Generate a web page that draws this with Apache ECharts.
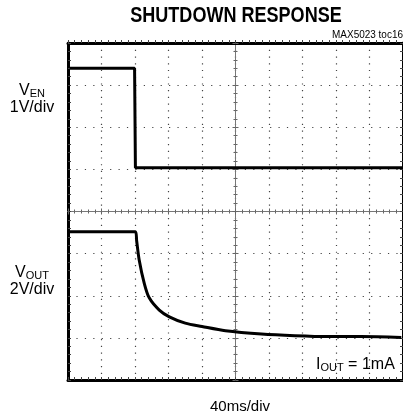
<!DOCTYPE html>
<html>
<head>
<meta charset="utf-8">
<script src="https://cdn.jsdelivr.net/npm/echarts@6/dist/echarts.min.js"></script>
<style>
html,body{margin:0;padding:0;background:#fff;}
#chart{width:403px;height:416px;}
</style>
</head>
<body>
<div id="chart"></div>
<script>
// time in ms relative to screen centre (40 ms/div, 10 div)
// vertical value in divisions relative to screen centre (8 div)
const venTime = [-198, -120.5, -119.5, 200];
const venDiv  = [3.40, 3.40, 1.04, 1.04];
const voutTime = [-198, -119.5, -118, -115, -109, -103, -91, -79, -60, -40, -12, 31, 71, 111, 150, 198];
const voutDiv  = [-0.48, -0.48, -0.70, -1.15, -1.70, -2.05, -2.34, -2.50, -2.65, -2.73, -2.83, -2.91, -2.95, -2.97, -2.97, -2.99];

const titleText = 'SHUTDOWN RESPONSE';
const tocText = 'MAX5023 toc16';
const xLabel = '40ms/div';

const sans = "'Liberation Sans',Arial,sans-serif";

const venData = venTime.map((t, i) => [t, venDiv[i]]);
const voutData = voutTime.map((t, i) => [t, voutDiv[i]]);

const frameLine = {show: true, onZero: false, lineStyle: {color: '#000', width: 3}};
const centreLine = {show: true, onZero: true, onZeroAxisIndex: 0, lineStyle: {color: '#777', width: 1}};
const noLabel = {show: false};

function xFrame(pos, inside, extra) {
  return Object.assign({
    type: 'value', min: -200, max: 200, interval: 40, position: pos,
    axisLine: frameLine,
    axisTick: {show: true, inside: inside, length: 3, lineStyle: {color: '#444', width: 1}},
    minorTick: {show: true, splitNumber: 5, length: 3, lineStyle: {color: '#444', width: 1}},
    axisLabel: noLabel, splitLine: {show: false}
  }, extra || {});
}
function yFrame(pos, inside, extra) {
  return Object.assign({
    type: 'value', min: -4, max: 4, interval: 1, position: pos,
    axisLine: frameLine,
    axisTick: {show: true, inside: inside, length: 3, lineStyle: {color: '#444', width: 1}},
    minorTick: {show: true, splitNumber: 5, length: 3, lineStyle: {color: '#444', width: 1}},
    axisLabel: noLabel, splitLine: {show: false}
  }, extra || {});
}
function xCentre(pos) {
  return {
    type: 'value', min: -200, max: 200, interval: 40, position: pos,
    axisLine: centreLine,
    axisTick: {show: true, inside: true, length: 3, lineStyle: {color: '#666', width: 1}},
    minorTick: {show: true, splitNumber: 5, length: 2, lineStyle: {color: '#666', width: 1}},
    axisLabel: noLabel, splitLine: {show: false}
  };
}
function yCentre(pos) {
  return {
    type: 'value', min: -4, max: 4, interval: 1, position: pos,
    axisLine: centreLine,
    axisTick: {show: true, inside: true, length: 3, lineStyle: {color: '#666', width: 1}},
    minorTick: {show: true, splitNumber: 5, length: 2, lineStyle: {color: '#666', width: 1}},
    axisLabel: noLabel, splitLine: {show: false}
  };
}

const richBase = (size, lh) => ({
  v: {fontFamily: sans, fontWeight: 'normal', fontSize: size, color: '#000', lineHeight: lh, verticalAlign: 'bottom'},
  s: {fontFamily: sans, fontWeight: 'normal', fontSize: Math.round(size * 0.7), color: '#000', lineHeight: Math.round(size * 0.62), verticalAlign: 'bottom'},
  d: {fontFamily: sans, fontWeight: 'normal', fontSize: size, color: '#000', lineHeight: lh}
});

const chart = echarts.init(document.getElementById('chart'), null, {renderer: 'canvas'});
chart.setOption({
  animation: false,
  backgroundColor: '#fff',
  graphic: [
    {type: 'text', x: 236, y: 5, scaleX: 0.82, z: 10,
     style: {text: titleText, font: "bold 22px " + sans, fill: '#000', textAlign: 'center', textVerticalAlign: 'top'}},
    {type: 'text', x: 403, y: 30, scaleX: 0.95, z: 10,
     style: {text: tocText, font: "10.5px " + sans, fill: '#000', textAlign: 'right', textVerticalAlign: 'top'}}
  ],
  title: [
    {text: '{v|V}{s|EN}\n{d|1V/div}', left: 27, top: 76, textAlign: 'center',
     textStyle: {fontWeight: 'normal', rich: richBase(16, 18)}},
    {text: '{v|V}{s|OUT}\n{d|2V/div}', left: 27, top: 258, textAlign: 'center',
     textStyle: {fontWeight: 'normal', rich: richBase(16, 18)}},
    {text: '{v|I}{s|OUT}{v| = 1mA}', left: 311, top: 348,
     textStyle: {fontWeight: 'normal', rich: richBase(16, 20)}},
    {text: xLabel, left: 235, top: 394, textAlign: 'center',
     textStyle: {fontFamily: sans, fontWeight: 'normal', fontSize: 15, color: '#000'}}
  ],
  grid: {left: 68, top: 43, width: 337, height: 337, containLabel: false},
  xAxis: [
    xFrame('bottom', true, {splitLine: {show: true, lineStyle: {color: '#444', width: 1.2, type: [1.2, 5.53]}}}),
    xFrame('top', false),
    xCentre('bottom'),
    xCentre('top')
  ],
  yAxis: [
    yFrame('left', true, {splitLine: {show: true, lineStyle: {color: '#444', width: 1.2, type: [1.2, 7.22]}}}),
    yFrame('right', true),
    yCentre('left'),
    yCentre('right')
  ],
  series: [
    {type: 'line', name: 'VEN', data: venData, xAxisIndex: 0, yAxisIndex: 0,
     showSymbol: false, symbol: 'none', lineStyle: {color: '#000', width: 3}, z: 5},
    {type: 'line', name: 'VOUT', data: voutData, xAxisIndex: 0, yAxisIndex: 0, smooth: 0.3,
     showSymbol: false, symbol: 'none', lineStyle: {color: '#000', width: 3}, z: 5}
  ]
});
</script>
</body>
</html>
